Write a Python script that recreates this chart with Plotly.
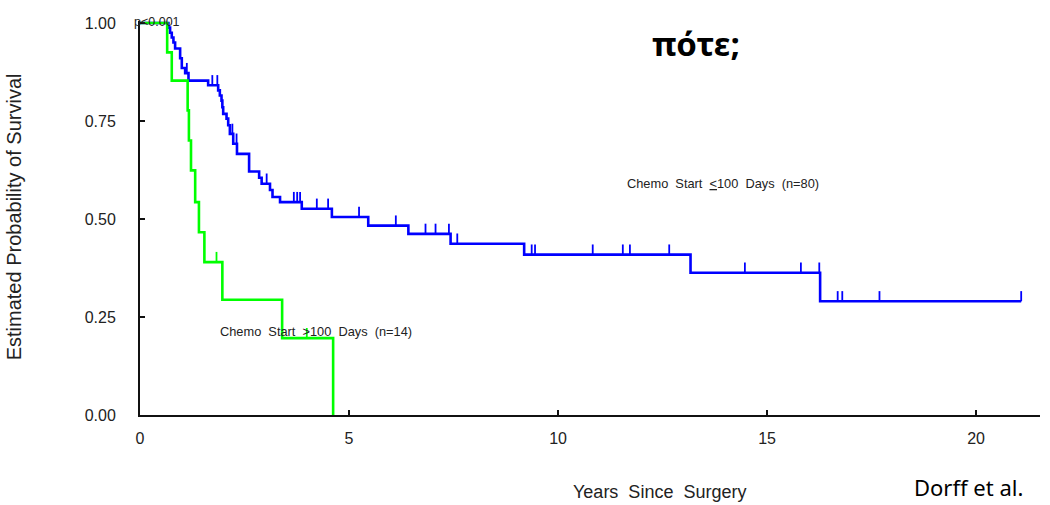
import plotly.graph_objects as go

# Kaplan-Meier estimates (years since surgery, survival probability)
early_times = [0, 0.68, 0.72, 0.76, 0.80, 0.84, 0.96, 1.00, 1.08, 1.16, 1.63, 1.87, 1.91,
               1.95, 1.97, 1.99, 2.07, 2.11, 2.15, 2.23, 2.32, 2.61, 2.85, 2.91, 3.11, 3.17,
               3.35, 3.87, 4.59, 5.46, 6.42, 7.43, 9.19, 13.17, 16.27, 21.08]
early_surv = [1.0, 0.988, 0.975, 0.963, 0.950, 0.935, 0.910, 0.885, 0.872, 0.853, 0.841,
              0.828, 0.815, 0.802, 0.785, 0.768, 0.756, 0.739, 0.717, 0.692, 0.666, 0.621,
              0.605, 0.590, 0.574, 0.556, 0.543, 0.526, 0.505, 0.483, 0.462, 0.437, 0.409,
              0.363, 0.290, 0.290]
early_censored = [1.12, 1.73, 1.85, 2.21, 2.31, 3.03, 3.68, 3.76, 3.83, 4.23, 4.50, 5.24,
                  6.12, 6.83, 7.07, 7.39, 7.59, 9.37, 9.45, 10.83, 11.55, 11.72, 12.66,
                  14.47, 15.81, 16.25, 16.69, 16.80, 17.69, 21.08]

late_times = [0, 0.65, 0.76, 1.14, 1.17, 1.22, 1.32, 1.41, 1.54, 1.97, 3.40, 4.62]
late_surv = [1.0, 0.925, 0.853, 0.777, 0.700, 0.624, 0.543, 0.466, 0.390, 0.294, 0.196, 0.0]
late_censored = [1.83, 3.99]

x_ticks = [0, 5, 10, 15, 20]
y_ticks = [0.0, 0.25, 0.5, 0.75, 1.0]
y_tick_text = ["0.00", "0.25", "0.50", "0.75", "1.00"]

FONT = "Liberation Sans, Arial, sans-serif"
BLUE = "rgb(0,0,255)"
GREEN = "rgb(0,255,0)"
TICK_H = 0.026  # height of a censoring mark, in probability units


def level_at(times, surv, t):
    val = surv[0]
    for ti, si in zip(times, surv):
        if ti <= t:
            val = si
    return val


def censor_segments(times, surv, cens):
    xs, ys = [], []
    for t in cens:
        s = level_at(times, surv, t)
        xs += [t, t, None]
        ys += [s, s + TICK_H, None]
    return xs, ys


fig = go.Figure()

for times, surv, cens, color in [
    (early_times, early_surv, early_censored, BLUE),
    (late_times, late_surv, late_censored, GREEN),
]:
    fig.add_trace(go.Scatter(x=times, y=surv, mode="lines", line_shape="hv",
                             line=dict(color=color, width=2.6), hoverinfo="skip",
                             showlegend=False))
    cx, cy = censor_segments(times, surv, cens)
    fig.add_trace(go.Scatter(x=cx, y=cy, mode="lines", line=dict(color=color, width=1.8),
                             hoverinfo="skip", showlegend=False))

annotations = [
    dict(text="p&lt;0.001", x=-0.009, y=1.0, xref="paper", yref="y", xanchor="left",
         yanchor="middle", yshift=1, font=dict(size=12.5, color="#222", family=FONT),
         showarrow=False),
    dict(text="Chemo\u00a0 Start\u00a0 <u>&lt;</u>100\u00a0 Days\u00a0 (n=80)", x=11.6, y=0.59,
         xanchor="left", yanchor="middle", font=dict(size=12.8, color="#222", family=FONT),
         showarrow=False),
    dict(text="Chemo\u00a0 Start\u00a0 >100\u00a0 Days\u00a0 (n=14)", x=1.86, y=0.213,
         xanchor="left", yanchor="middle", font=dict(size=12.8, color="#222", family=FONT),
         showarrow=False),
    dict(text="Years\u00a0 Since\u00a0 Surgery", x=0.577, y=-0.195, xref="paper", yref="paper",
         xanchor="center", yanchor="middle", font=dict(size=18, color="#222", family=FONT),
         showarrow=False),
    dict(text="Estimated Probability of Survival", x=-0.139, y=0.504, xref="paper",
         yref="paper", textangle=-90, xanchor="center", yanchor="middle",
         font=dict(size=20, color="#222", family=FONT), showarrow=False),
    dict(text="<b>πότε;</b>", x=0.618, y=0.943, xref="paper", yref="paper",
         xanchor="center", yanchor="middle",
         font=dict(size=33, color="#000", family="Noto Sans, Open Sans, sans-serif"),
         showarrow=False),
    dict(text="Dorff et al.", x=0.858, y=-0.183, xref="paper", yref="paper",
         xanchor="left", yanchor="middle",
         font=dict(size=22, color="#000", family="Noto Sans, Open Sans, sans-serif"),
         showarrow=False),
]

fig.update_layout(
    width=1050, height=505,
    margin=dict(l=140, r=10, t=21, b=90, pad=0),
    paper_bgcolor="white", plot_bgcolor="white",
    annotations=annotations,
    xaxis=dict(range=[0, 21.53], tickvals=x_ticks, ticks="inside", ticklen=5,
               tickwidth=1.5, tickcolor="#111", showline=True, linecolor="#111",
               linewidth=2, showgrid=False, zeroline=False, ticklabelstandoff=8,
               tickfont=dict(size=16, color="#222", family=FONT)),
    yaxis=dict(range=[0, 1.005], tickvals=y_ticks, ticktext=y_tick_text, ticks="inside",
               ticklen=5, tickwidth=1.5, tickcolor="#111", showline=True, linecolor="#111",
               linewidth=2, showgrid=False, zeroline=False, ticklabelstandoff=19,
               tickfont=dict(size=16, color="#222", family=FONT)),
)

fig.write_html("out.html")
